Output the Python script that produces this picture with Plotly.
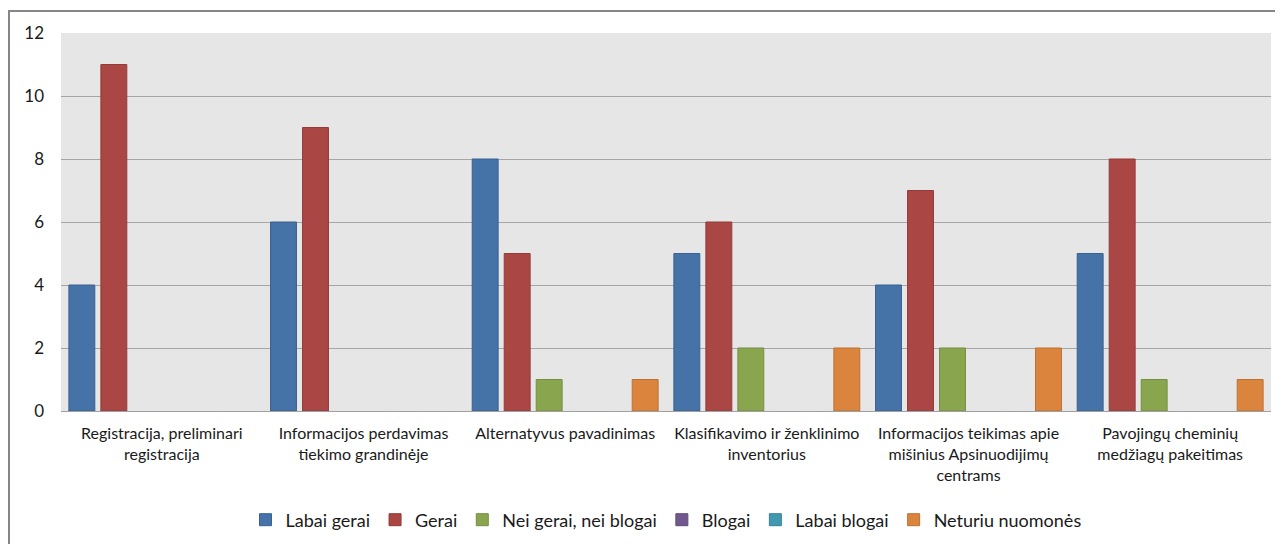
import plotly.graph_objects as go

categories = [
    "Registracija, preliminari<br>registracija",
    "Informacijos perdavimas<br>tiekimo grandinėje",
    "Alternatyvus pavadinimas",
    "Klasifikavimo ir ženklinimo<br>inventorius",
    "Informacijos teikimas apie<br>mišinius Apsinuodijimų<br>centrams",
    "Pavojingų cheminių<br>medžiagų pakeitimas",
]
series_names = ["Labai gerai", "Gerai", "Nei gerai, nei blogai", "Blogai", "Labai blogai", "Neturiu nuomonės"]
labai_gerai = [4, 6, 8, 5, 4, 5]
gerai = [11, 9, 5, 6, 7, 8]
nei_gerai_nei_blogai = [0, 0, 1, 2, 2, 1]
blogai = [0, 0, 0, 0, 0, 0]
labai_blogai = [0, 0, 0, 0, 0, 0]
neturiu_nuomones = [0, 0, 1, 2, 2, 1]
y_ticks = [0, 2, 4, 6, 8, 10, 12]

series_values = [labai_gerai, gerai, nei_gerai_nei_blogai, blogai, labai_blogai, neturiu_nuomones]
colors = ["#4572A7", "#AA4643", "#89A54E", "#71588F", "#4198AF", "#DB843D"]
edges = ["#3A6193", "#933B39", "#768E43", "#604B7A", "#378297", "#BC7134"]

font_family = "Lato, 'Open Sans', sans-serif"

fig = go.Figure()
for name, vals, c, e in zip(series_names, series_values, colors, edges):
    fig.add_trace(go.Bar(
        x=categories, y=[v if v != 0 else None for v in vals], name=name,
        marker=dict(color=c, line=dict(color=e, width=1)),
    ))

# page body has an 8px margin; compensate so the figure fills the window
OFF = 8
W, H = 1283 - OFF, 544 - OFF
plot_left, plot_right, plot_top, plot_bottom = 61, 1271, 33, 411
ml = plot_left - OFF
mr = (W + OFF) - plot_right
mt = plot_top - OFF
mb = (H + OFF) - plot_bottom
pw = plot_right - plot_left
ph = plot_bottom - plot_top

def px_x(p):
    return (p - plot_left) / pw

def px_y(p):
    return (plot_bottom - p) / ph

fig.update_layout(
    width=W, height=H,
    margin=dict(l=ml, r=mr, t=mt, b=mb, autoexpand=False),
    paper_bgcolor="white",
    plot_bgcolor="#E6E6E6",
    barmode="group",
    bargap=0.048,
    bargroupgap=0.19,
    font=dict(family=font_family, size=16, color="#1a1a1a"),
    showlegend=True,
    legend=dict(
        orientation="h", x=0.5, xanchor="center",
        y=px_y(520), yanchor="middle",
        font=dict(size=18, color="#1a1a1a"),
        itemwidth=30, traceorder="normal",
        bgcolor="rgba(0,0,0,0)",
    ),
    xaxis=dict(
        showgrid=False, showline=True, linecolor="#A0A0A0", linewidth=1,
        ticks="", tickfont=dict(size=16), automargin=False, ticklabelstandoff=8,
    ),
    yaxis=dict(
        range=[0, 12], tickvals=y_ticks, showgrid=True, gridcolor="#A6A6A6", gridwidth=1,
        zeroline=False, showline=False, ticks="", ticklabelstandoff=16,
        tickfont=dict(size=17), automargin=False,
    ),
    shapes=[dict(
        type="rect", xref="paper", yref="paper",
        x0=px_x(9), x1=px_x(1295), y0=px_y(560), y1=px_y(11),
        line=dict(color="#868686", width=2), fillcolor="rgba(0,0,0,0)", layer="below",
    )],
)

fig.write_html("out.html")
